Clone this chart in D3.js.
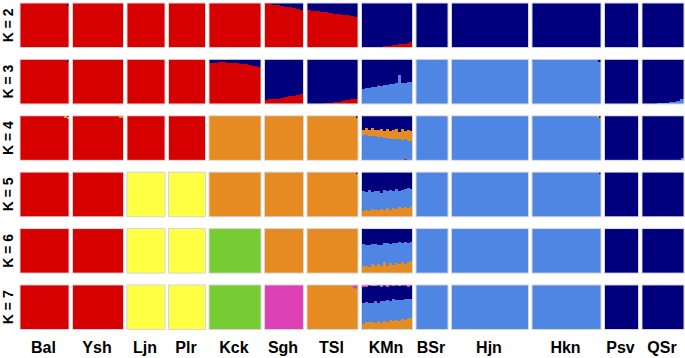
<!DOCTYPE html>
<html><head><meta charset="utf-8">
<script src="https://cdn.jsdelivr.net/npm/d3@7"></script>
<style>html,body{margin:0;padding:0;background:#fff;}svg{display:block;}</style>
</head><body>
<svg id="chart" width="685" height="358"></svg>
<script>
// ---------- data ----------
const popNames = ["Bal","Ysh","Ljn","Plr","Kck","Sgh","TSl","KMn","BSr","Hjn","Hkn","Psv","QSr"];
const popSizes = [49,51,38,37,52,39,51,51,32,77,69,34,42];
const kValues = [2,3,4,5,6,7];
const palette = {red:"#d70000", navy:"#00007f", lb:"#4f86e4", orange:"#e68a22", yellow:"#ffff44", green:"#77cc33", pink:"#dd3fb4"};

// cluster stacking order (bottom -> top) per K
const clustersK2 = ["red","navy"];
const clustersK3 = ["lb","red","navy"];
const clustersK4 = ["red","lb","orange","navy"];
const clustersK5 = ["red","yellow","orange","lb","navy"];
const clustersK6 = ["red","yellow","green","orange","lb","navy"];
const clustersK7 = ["red","yellow","green","orange","lb","navy","pink"];

// runs: [count, q1, q2, ...] in the order of the K's clusters
const qK2 = [
  [[47,1,0],[2,0.93,0.07]],
  [[1,1,0]],
  [[1,1,0]],
  [[1,1,0]],
  [[1,1,0]],
  [[1,0.98,0.02],[1,0.97,0.03],[1,0.96,0.04],[1,0.95,0.05],[1,0.93,0.07],[1,0.92,0.08],[1,0.9,0.1],[1,0.89,0.11],[1,0.87,0.13],[1,0.85,0.15]],
  [[1,0.84,0.16],[1,0.83,0.17],[1,0.81,0.19],[1,0.8,0.2],[1,0.79,0.21],[1,0.78,0.22],[1,0.76,0.24],[1,0.75,0.25],[1,0.73,0.27],[1,0.72,0.28],[1,0.7,0.3],[1,0.68,0.32]],
  [[5,0,1],[1,0.01,0.99],[1,0.02,0.98],[1,0.03,0.97],[1,0.03,0.97],[1,0.04,0.96],[1,0.05,0.95],[1,0.06,0.94],[1,0.07,0.93],[1,0.08,0.92],[1,0.09,0.91],[1,0.1,0.9],[1,0.13,0.87]],
  [[1,0,1]],
  [[1,0,1]],
  [[1,0,1]],
  [[1,0,1]],
  [[1,0,1]]
];
const qK3 = [
  [[47,0,1,0],[2,0,0.94,0.06]],
  [[49,0,1,0],[2,0,0.97,0.03]],
  [[1,0,1,0]],
  [[1,0,1,0]],
  [[1,0,0.92,0.08],[1,0,0.93,0.07],[1,0,0.94,0.06],[1,0,0.94,0.06],[1,0,0.93,0.07],[1,0,0.92,0.08],[1,0,0.91,0.09],[1,0,0.9,0.1],[1,0,0.89,0.11],[1,0,0.87,0.13],[1,0,0.85,0.15],[1,0,0.83,0.17]],
  [[1,0,0.09,0.91],[1,0,0.1,0.9],[1,0,0.11,0.89],[1,0,0.12,0.88],[1,0,0.14,0.86],[1,0,0.15,0.85],[1,0,0.17,0.83],[1,0,0.18,0.82],[1,0,0.2,0.8],[1,0,0.22,0.78]],
  [[4,0,0,1],[1,0,0.01,0.99],[1,0,0.02,0.98],[1,0,0.04,0.96],[1,0,0.05,0.95],[1,0,0.07,0.93],[1,0,0.09,0.91],[1,0,0.1,0.9],[1,0,0.12,0.88]],
  [[1,0.33,0,0.67],[1,0.35,0,0.65],[1,0.36,0,0.64],[1,0.37,0,0.63],[1,0.38,0,0.62],[1,0.4,0.03,0.57],[1,0.41,0,0.59],[1,0.42,0,0.58],[1,0.43,0,0.57],[1,0.44,0,0.56],[1,0.45,0,0.55],[1,0.46,0,0.54],[1,0.66,0,0.34],[1,0.48,0,0.52],[1,0.48,0,0.52],[1,0.49,0,0.51],[1,0.5,0,0.5]],
  [[1,1,0,0]],
  [[1,1,0,0]],
  [[66,1,0,0],[3,0.95,0,0.05]],
  [[33,0,0,1],[1,0.07,0,0.93]],
  [[4,0,0,1],[1,0.01,0,0.99],[1,0.02,0,0.98],[1,0.03,0,0.97],[1,0.04,0,0.96],[1,0.05,0,0.95],[1,0.07,0,0.93],[1,0.1,0,0.9]]
];
const qK4 = [
  [[44,1,0,0,0],[3,0.95,0,0.05,0],[2,0.93,0,0.04,0.03]],
  [[46,1,0,0,0],[5,0.95,0,0.05,0]],
  [[1,1,0,0,0]],
  [[1,1,0,0,0]],
  [[1,0,0,1,0]],
  [[1,0,0,1,0]],
  [[49,0,0,1,0],[2,0,0,0.95,0.05]],
  [[1,0,0.57,0.1,0.33],[1,0,0.56,0.16,0.28],[1,0,0.55,0.12,0.33],[1,0,0.55,0.17,0.28],[1,0,0.54,0.13,0.33],[1,0,0.53,0.15,0.32],[1,0,0.52,0.19,0.29],[1,0,0.51,0.14,0.35],[1,0,0.5,0.21,0.29],[1,0,0.49,0.16,0.35],[1,0,0.48,0.19,0.33],[1,0,0.47,0.24,0.29],[1,0,0.47,0.17,0.36],[1,0,0.46,0.25,0.29],[1,0.02,0.45,0.19,0.34],[1,0,0.44,0.24,0.32],[1,0,0.43,0.23,0.34]],
  [[30,0,1,0,0],[2,0,0.95,0.05,0]],
  [[1,0,1,0,0]],
  [[65,0,1,0,0],[2,0,0.95,0.05,0],[2,0,0.93,0.02,0.05]],
  [[1,0,0,0,1]],
  [[39,0,0,0,1],[3,0,0.06,0,0.94]]
];
const qK5 = [
  [[1,1,0,0,0,0]],
  [[1,1,0,0,0,0]],
  [[1,0,1,0,0,0]],
  [[1,0,1,0,0,0]],
  [[1,0,0,1,0,0]],
  [[1,0,0,1,0,0]],
  [[49,0,0,1,0,0],[2,0,0,0.95,0,0.05]],
  [[1,0,0,0.12,0.45,0.43],[1,0,0,0.15,0.4,0.45],[1,0,0,0.13,0.46,0.41],[1,0,0,0.17,0.38,0.45],[1,0,0,0.14,0.44,0.42],[1,0,0,0.16,0.42,0.42],[1,0,0,0.18,0.36,0.46],[1,0,0,0.15,0.45,0.4],[1,0,0,0.19,0.38,0.43],[1,0,0,0.16,0.43,0.41],[1,0,0,0.2,0.37,0.43],[1,0,0,0.18,0.44,0.38],[1,0,0,0.21,0.36,0.43],[1,0,0,0.19,0.42,0.39],[1,0,0,0.22,0.4,0.38],[1,0,0,0.2,0.45,0.35],[1,0,0,0.24,0.38,0.38]],
  [[1,0,0,0,1,0]],
  [[1,0,0,0,1,0]],
  [[67,0,0,0,1,0],[2,0,0,0,0.95,0.05]],
  [[1,0,0,0,0,1]],
  [[1,0,0,0,0,1]]
];
const qK6 = [
  [[1,1,0,0,0,0,0]],
  [[1,1,0,0,0,0,0]],
  [[1,0,1,0,0,0,0]],
  [[1,0,1,0,0,0,0]],
  [[1,0,0,1,0,0,0]],
  [[1,0,0,0,1,0,0]],
  [[49,0,0,0,1,0,0],[2,0,0,0.05,0.95,0,0]],
  [[1,0,0,0.03,0.14,0.48,0.35],[1,0,0,0,0.17,0.46,0.37],[1,0,0,0,0.13,0.5,0.37],[1,0,0,0.03,0.18,0.44,0.35],[1,0,0,0,0.15,0.5,0.35],[1,0,0,0,0.2,0.42,0.38],[1,0,0,0,0.16,0.48,0.36],[1,0,0,0.03,0.21,0.44,0.32],[1,0,0,0,0.17,0.5,0.33],[1,0,0,0,0.22,0.43,0.35],[1,0,0,0,0.18,0.49,0.33],[1,0,0,0,0.23,0.45,0.32],[1,0,0,0,0.2,0.5,0.3],[1,0,0,0,0.24,0.44,0.32],[1,0,0,0,0.21,0.49,0.3],[1,0,0,0,0.25,0.43,0.32],[1,0,0,0.04,0.24,0.42,0.3]],
  [[1,0,0,0,0,1,0]],
  [[1,0,0,0,0,1,0]],
  [[1,0,0,0,0,1,0]],
  [[1,0,0,0,0,0,1]],
  [[1,0,0,0,0,0,1]]
];
const qK7 = [
  [[1,1,0,0,0,0,0,0]],
  [[1,1,0,0,0,0,0,0]],
  [[1,0,1,0,0,0,0,0]],
  [[1,0,1,0,0,0,0,0]],
  [[1,0,0,1,0,0,0,0]],
  [[1,0,0,0,0,0,0,1]],
  [[46,0,0,0,1,0,0,0],[3,0,0,0,0.94,0,0,0.06],[2,0,0,0,0.9,0,0,0.1]],
  [[1,0,0,0,0.12,0.47,0.36,0.05],[1,0,0,0,0.16,0.45,0.34,0.05],[1,0,0,0.04,0.12,0.44,0.4,0],[1,0,0,0,0.17,0.43,0.37,0.03],[1,0,0,0,0.14,0.5,0.33,0.03],[1,0,0,0,0.19,0.41,0.4,0],[1,0,0,0,0.15,0.48,0.33,0.04],[1,0,0,0,0.2,0.44,0.36,0],[1,0,0,0,0.17,0.49,0.3,0.04],[1,0,0,0,0.21,0.42,0.37,0],[1,0,0,0,0.18,0.5,0.29,0.03],[1,0,0,0,0.22,0.45,0.33,0],[1,0,0,0,0.2,0.47,0.3,0.03],[1,0,0,0,0.24,0.43,0.33,0],[1,0,0,0,0.21,0.48,0.31,0],[1,0,0,0.04,0.22,0.42,0.28,0.04],[1,0,0,0,0.25,0.44,0.31,0]],
  [[1,0,0,0,0,1,0,0]],
  [[1,0,0,0,0,1,0,0]],
  [[1,0,0,0,0,1,0,0]],
  [[1,0,0,0,0,0,1,0]],
  [[1,0,0,0,0,0,1,0]]
];
const clusterOrders = [clustersK2, clustersK3, clustersK4, clustersK5, clustersK6, clustersK7];
const qTables = [qK2, qK3, qK4, qK5, qK6, qK7];

// ---------- layout ----------
const svg = d3.select("#chart");
const plotLeft = 20, plotRight = 684, gap = 3.5;
const totalSize = d3.sum(popSizes);
const unit = (plotRight - plotLeft - gap * (popSizes.length - 1)) / totalSize;
const cum = d3.cumsum([0].concat(popSizes));
const panelX = d3.scaleLinear().domain([0, totalSize]).range([plotLeft, plotLeft + totalSize * unit]);
const px0 = i => panelX(cum[i]) + gap * i;
const px1 = i => panelX(cum[i + 1]) + gap * i;

const rowY = d3.scaleBand().domain(kValues).range([3, 329.5]).paddingInner(0.21).paddingOuter(0);

const bars = svg.append("g").attr("shape-rendering", "crispEdges");

kValues.forEach((k, ki) => {
  const order = clusterOrders[ki];
  const table = qTables[ki];
  const y0 = rowY(k), h = rowY.bandwidth();
  const yScale = d3.scaleLinear().domain([0, 1]).range([y0 + h, y0]);
  table.forEach((runs, pi) => {
    const n = d3.sum(runs, r => r[0]);
    const xs = d3.scaleLinear().domain([0, n]).range([px0(pi), px1(pi)]);
    let c = 0;
    runs.forEach(run => {
      const cnt = run[0];
      const qs = run.slice(1);
      const stack = d3.cumsum([0].concat(qs));
      qs.forEach((q, j) => {
        if (q <= 0) return;
        bars.append("rect")
          .attr("x", xs(c))
          .attr("width", xs(c + cnt) - xs(c) + 0.3)
          .attr("y", yScale(Math.min(1, stack[j + 1])))
          .attr("height", yScale(stack[j]) - yScale(Math.min(1, stack[j + 1])))
          .attr("fill", palette[order[j]]);
      });
      c += cnt;
    });
    svg.append("rect")
      .attr("x", px0(pi)).attr("y", y0)
      .attr("width", px1(pi) - px0(pi)).attr("height", h)
      .attr("fill", "none").attr("stroke", "#d6d6d6").attr("stroke-width", 1);
  });
  // K label
  svg.append("text")
    .attr("transform", `translate(13,${y0 + h / 2}) rotate(-90)`)
    .attr("text-anchor", "middle")
    .attr("font-family", "Liberation Sans, Arial, sans-serif")
    .attr("font-weight", "bold").attr("font-size", 14)
    .attr("fill", "#000")
    .text(`K = ${k}`);
});

popNames.forEach((name, pi) => {
  svg.append("text")
    .attr("x", (px0(pi) + px1(pi)) / 2 - 1)
    .attr("y", 353)
    .attr("text-anchor", "middle")
    .attr("font-family", "Liberation Sans, Arial, sans-serif")
    .attr("font-weight", "bold").attr("font-size", 16)
    .attr("fill", "#000")
    .text(name);
});
</script>
</body></html>
